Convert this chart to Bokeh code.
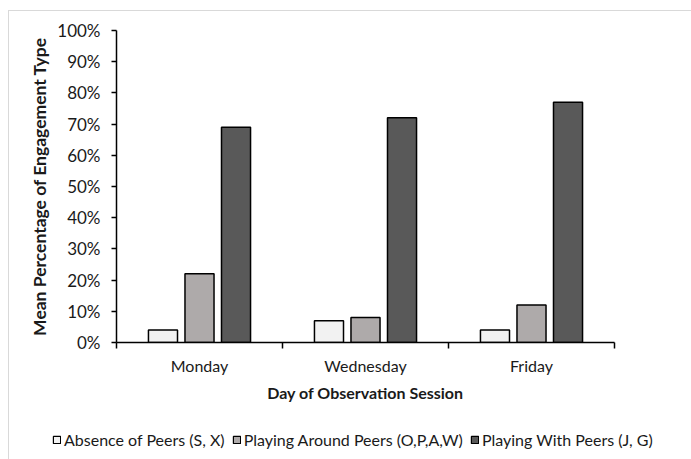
from bokeh.plotting import figure
from bokeh.models import (ColumnDataSource, FixedTicker, NumeralTickFormatter,
                          Legend, LegendItem, Range1d)
from bokeh.embed import file_html
from bokeh.resources import INLINE
import numpy as np

# Mean share of each engagement type per observation day
days = ["Monday", "Wednesday", "Friday"]
absence = [0.04, 0.07, 0.04]
around = [0.22, 0.08, 0.12]
with_peers = [0.69, 0.72, 0.77]
series_names = ["Absence of Peers (S, X)",
                "Playing Around Peers (O,P,A,W)",
                "Playing With Peers (J, G)"]
series_colors = ["#f2f2f2", "#aeaaaa", "#595959"]
y_ticks = [0.0, 0.1, 0.2, 0.3, 0.4, 0.5, 0.6, 0.7, 0.8, 0.9, 1.0]

FONT = "Lato"
TEXT = "#1a1a1a"
EDGE = "1px solid #d9d9d9"

centers = np.arange(len(days)) + 0.5
offsets = [-0.22, 0.0, 0.22]
bar_w = 0.175
series_vals = [absence, around, with_peers]

p = figure(width=683, height=409, output_backend="svg", toolbar_location=None,
           x_range=Range1d(0, len(days)), y_range=Range1d(0, 1),
           min_border_left=107, min_border_right=78,
           min_border_top=19, min_border_bottom=78)
p.margin = (10, 0, 0, 8)
p.styles = {"border-top": EDGE, "border-left": EDGE}
p.outline_line_color = None
p.xgrid.visible = False
p.ygrid.visible = False

for vals, off, col in zip(series_vals, offsets, series_colors):
    src = ColumnDataSource(dict(x=centers + off, top=vals))
    p.vbar(x="x", top="top", width=bar_w, bottom=0, source=src,
           fill_color=col, line_color="#000000", line_width=1.5)

# x axis: labels at category centers, tick marks at category boundaries
xa = p.xaxis[0]
xa.ticker = FixedTicker(ticks=list(centers),
                        minor_ticks=list(range(len(days) + 1)))
xa.major_label_overrides = {float(c): d for c, d in zip(centers, days)}
xa.major_tick_line_color = None
xa.minor_tick_line_color = "#000000"
xa.minor_tick_line_width = 1.5
xa.minor_tick_out = 6
xa.minor_tick_in = 0
xa.axis_line_color = "#000000"
xa.axis_line_width = 1.5
xa.major_label_text_font = FONT
xa.major_label_text_font_size = "16px"
xa.major_label_text_color = TEXT
xa.major_label_standoff = 7
xa.axis_label = "Day of Observation Session"
xa.axis_label_text_font = FONT
xa.axis_label_text_font_size = "16px"
xa.axis_label_text_font_style = "bold"
xa.axis_label_text_color = TEXT
xa.axis_label_standoff = 5

ya = p.yaxis[0]
ya.ticker = FixedTicker(ticks=y_ticks, minor_ticks=[])
ya.formatter = NumeralTickFormatter(format="0%")
ya.axis_line_color = "#000000"
ya.axis_line_width = 1.5
ya.major_tick_line_color = "#000000"
ya.major_tick_line_width = 1.5
ya.major_tick_out = 5
ya.major_tick_in = 0
ya.minor_tick_line_color = None
ya.major_label_text_font = FONT
ya.major_label_text_font_size = "17px"
ya.major_label_text_color = TEXT
ya.major_label_standoff = 11
ya.axis_label = "Mean Percentage of Engagement Type"
ya.axis_label_text_font = FONT
ya.axis_label_text_font_size = "17.5px"
ya.axis_label_text_font_style = "bold"
ya.axis_label_text_color = TEXT
ya.axis_label_standoff = 4

# Legend strip under the chart. Its swatch renderers carry the same bars and
# styling, but the strip's ranges keep the bars themselves out of view.
leg = figure(width=683, height=40, output_backend="svg", toolbar_location=None,
             x_range=Range1d(0, len(days)), y_range=Range1d(5, 6),
             min_border=0, x_axis_type=None, y_axis_type=None)
leg.margin = (0, 0, 0, 8)
leg.styles = {"border-left": EDGE}
leg.outline_line_color = None
leg.xgrid.visible = False
leg.ygrid.visible = False
swatches = []
for vals, off, col in zip(series_vals, offsets, series_colors):
    src = ColumnDataSource(dict(x=centers + off, top=vals))
    r = leg.vbar(x="x", top="top", width=bar_w, bottom=0, source=src,
                 fill_color=col, line_color="#000000", line_width=1.2)
    swatches.append(r)

legend = Legend(
    items=[LegendItem(label=n, renderers=[r]) for n, r in zip(series_names, swatches)],
    location=(43, 10), orientation="horizontal",
    glyph_width=9, glyph_height=9, label_standoff=3, spacing=7,
    padding=0, margin=0, border_line_color=None, background_fill_alpha=0,
    label_text_font=FONT, label_text_font_size="16px", label_text_color=TEXT)
leg.add_layout(legend, "center")

open("out.html", "w").write(file_html([p, leg], INLINE))
